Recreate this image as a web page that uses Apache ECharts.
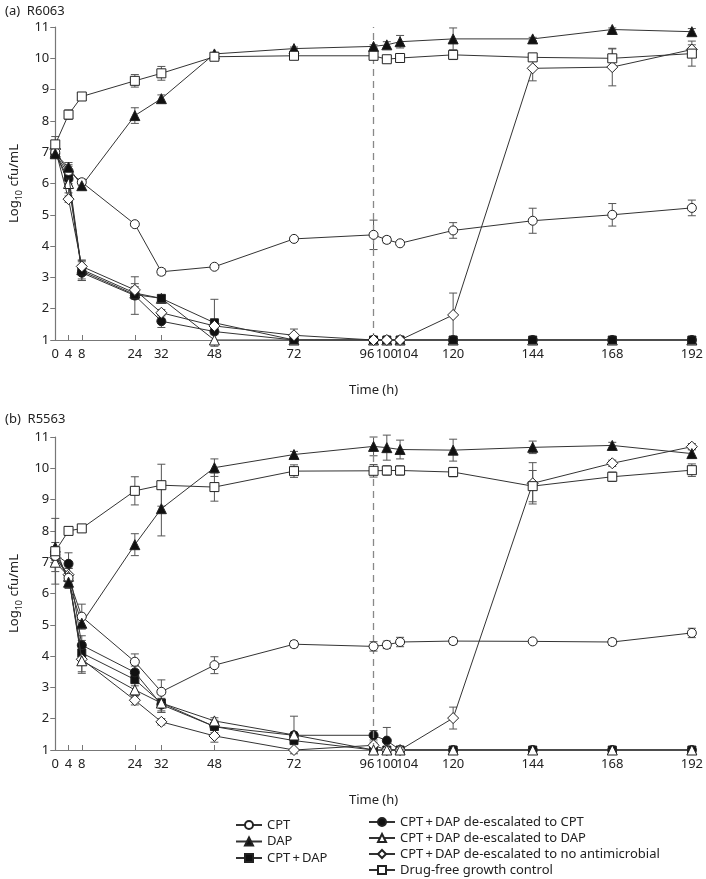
<!DOCTYPE html>
<html>
<head>
<meta charset="utf-8">
<script src="https://cdn.jsdelivr.net/npm/echarts@6/dist/echarts.min.js"></script>
<style>html,body{margin:0;padding:0;background:#fff}#c{width:706px;height:879px}</style>
</head>
<body>
<div id="c"></div>
<script>
// ---- Data ----
const times = [0, 4, 8, 24, 32, 48, 72, 96, 100, 104, 120, 144, 168, 192];
const xTickLabels = ['0','4','8','24','32','48','72','96','100','104','120','144','168','192'];
const yTicks = [1,2,3,4,5,6,7,8,9,10,11];

// Panel (a) R6063
const aCPT      = [7.0, 6.4, 6.04, 4.7, 3.18, 3.34, 4.23, 4.36, 4.2, 4.09, 4.5, 4.81, 5.0, 5.22];
const aCPTErr   = [0.1, 0.15, 0.1, 0.05, 0.1, 0.05, 0.05, 0.47, 0.1, 0.05, 0.25, 0.4, 0.36, 0.25];
const aDAP      = [6.95, 6.52, 5.93, 8.17, 8.71, 10.14, 10.31, 10.38, 10.43, 10.53, 10.62, 10.62, 10.92, 10.85];
const aDAPErr   = [0.1, 0.15, 0.1, 0.25, 0.12, 0.05, 0.05, 0.05, 0.1, 0.2, 0.35, 0.05, 0.05, 0.1];
const aCombo    = [6.95, 6.3, 3.2, 2.45, 2.33, 1.55, 1.0, 1.0, 1.0, 1.0, 1.0, 1.0, 1.0, 1.0];
const aComboErr = [0.1, 0.3, 0.3, 0.1, 0.08, 0.75, 0, 0, 0, 0, 0, 0, 0, 0];
const aDeCPT    = [6.95, 6.15, 3.15, 2.42, 1.6, 1.27, 1.0, 1.0, 1.0, 1.0, 1.0, 1.0, 1.0, 1.0];
const aDeCPTErr = [0.05, 0.2, 0.25, 0.6, 0.2, 0.1, 0, 0, 0, 0, 0, 0, 0, 0];
const aDeDAP    = [7.0, 6.0, 3.25, 2.5, 2.33, 1.0, 1.0, 1.0, 1.0, 1.0, 1.0, 1.0, 1.0, 1.0];
const aDeDAPErr = [0.1, 0.3, 0.3, 0.2, 0.1, 0, 0, 0, 0, 0, 0, 0, 0, 0];
const aDeNone   = [7.1, 5.5, 3.35, 2.6, 1.87, 1.45, 1.15, 1.0, 1.0, 1.0, 1.8, 9.68, 9.72, 10.28];
const aDeNoneErr= [0.1, 0.1, 0.2, 0.2, 0.1, 0.1, 0.2, 0, 0, 0, 0.7, 0.4, 0.6, 0.15];
const aCtrl     = [7.25, 8.2, 8.78, 9.28, 9.52, 10.05, 10.08, 10.08, 9.97, 10.01, 10.11, 10.03, 10.0, 10.15];
const aCtrlErr  = [0.25, 0.15, 0.1, 0.2, 0.22, 0.05, 0.05, 0.1, 0.05, 0.05, 0.15, 0.1, 0.3, 0.4];

// Panel (b) R5563
const bCPT      = [7.2, 6.5, 5.26, 3.82, 2.86, 3.71, 4.38, 4.31, 4.36, 4.45, 4.48, 4.47, 4.45, 4.74];
const bCPTErr   = [0.3, 0.3, 0.4, 0.25, 0.38, 0.27, 0.1, 0.15, 0.12, 0.15, 0.1, 0.05, 0.1, 0.15];
const bDAP      = [7.48, 6.36, 5.05, 7.56, 8.71, 10.02, 10.44, 10.7, 10.66, 10.6, 10.58, 10.67, 10.73, 10.47];
const bDAPErr   = [0.15, 0.2, 0.15, 0.35, 0.87, 0.28, 0.1, 0.3, 0.4, 0.3, 0.35, 0.2, 0.1, 0.15];
const bCombo    = [7.3, 6.5, 4.1, 3.25, 2.5, 1.75, 1.3, 1.0, 1.0, 1.0, 1.0, 1.0, 1.0, 1.0];
const bComboErr = [0.1, 0.3, 0.4, 0.2, 0.3, 0.2, 0.1, 0, 0, 0, 0, 0, 0, 0];
const bDeCPT    = [7.25, 6.95, 4.35, 3.48, 2.45, 1.75, 1.47, 1.47, 1.3, 1.0, 1.0, 1.0, 1.0, 1.0];
const bDeCPTErr = [0.2, 0.35, 0.3, 0.2, 0.2, 0.1, 0.1, 0.15, 0.42, 0, 0, 0, 0, 0];
const bDeDAP    = [7.0, 6.55, 3.85, 2.92, 2.5, 1.93, 1.48, 1.0, 1.0, 1.0, 1.0, 1.0, 1.0, 1.0];
const bDeDAPErr = [0.3, 0.3, 0.4, 0.2, 0.3, 0.1, 0.6, 0, 0, 0, 0, 0, 0, 0];
const bDeNone   = [7.15, 6.6, 3.9, 2.59, 1.9, 1.45, 1.0, 1.15, 1.0, 1.0, 2.02, 9.52, 10.16, 10.69];
const bDeNoneErr= [0.2, 0.3, 0.4, 0.15, 0.1, 0.2, 0, 0.1, 0, 0, 0.35, 0.66, 0.1, 0.1];
const bCtrl     = [7.35, 8.0, 8.08, 9.28, 9.46, 9.4, 9.91, 9.92, 9.93, 9.93, 9.88, 9.43, 9.73, 9.94];
const bCtrlErr  = [1.05, 0.05, 0.05, 0.45, 0.67, 0.45, 0.2, 0.2, 0.15, 0.15, 0.15, 0.5, 0.15, 0.2];

const NAMES = {
  CPT: 'CPT',
  DAP: 'DAP',
  combo: 'CPT\u2009+\u2009DAP',
  deCPT: 'CPT\u2009+\u2009DAP de-escalated to CPT',
  deDAP: 'CPT\u2009+\u2009DAP de-escalated to DAP',
  deNone: 'CPT\u2009+\u2009DAP de-escalated to no antimicrobial',
  ctrl: 'Drug-free growth control'
};
const STY = {
  CPT:   {symbol: 'circle',   size: 9,  fill: '#fff'},
  DAP:   {symbol: 'triangle', size: 10, fill: '#111'},
  combo: {symbol: 'rect',     size: 8,  fill: '#111'},
  deCPT: {symbol: 'circle',   size: 9,  fill: '#111'},
  deDAP: {symbol: 'triangle', size: 10, fill: '#fff'},
  deNone:{symbol: 'diamond',  size: 11, fill: '#fff'},
  ctrl:  {symbol: 'rect',     size: 9,  fill: '#fff'}
};

const FONT = 'Noto Sans';
const series = [];
function addPanel(idx, sets, zmap) {
  Object.keys(sets).forEach(k => {
    const [vals, errs] = sets[k];
    const st = STY[k];
    const z = zmap[k] || 3;
    series.push({
      type: 'custom', xAxisIndex: idx, yAxisIndex: idx, z: 1, silent: true,
      data: times.map((t, i) => [t, vals[i], errs[i]]),
      renderItem: function (params, api) {
        const x = api.value(0), y = api.value(1), e = api.value(2);
        if (!e) return null;
        const p1 = api.coord([x, y + e]);
        const p2 = api.coord([x, y - e]);
        const w = 4;
        const s = {stroke: '#555', lineWidth: 1};
        return {type: 'group', children: [
          {type: 'line', shape: {x1: p1[0], y1: p1[1], x2: p2[0], y2: p2[1]}, style: s},
          {type: 'line', shape: {x1: p1[0]-w, y1: p1[1], x2: p1[0]+w, y2: p1[1]}, style: s},
          {type: 'line', shape: {x1: p2[0]-w, y1: p2[1], x2: p2[0]+w, y2: p2[1]}, style: s}
        ]};
      }
    });
    const s = {
      name: NAMES[k], type: 'line', xAxisIndex: idx, yAxisIndex: idx, z: z,
      data: times.map((t, i) => [t, vals[i]]),
      symbol: st.symbol, symbolSize: st.size, showSymbol: true,
      lineStyle: {color: '#333', width: 1},
      itemStyle: {color: st.fill, borderColor: '#222', borderWidth: 1},
      emphasis: {disabled: true}, animation: false
    };
    if (k === 'ctrl') {
      s.markLine = {
        silent: true, symbol: 'none', label: {show: false},
        lineStyle: {type: [7, 5], color: '#888', width: 1.3},
        data: [{xAxis: 96}]
      };
    }
    series.push(s);
  });
}

addPanel(0, {
  deCPT: [aDeCPT, aDeCPTErr], deDAP: [aDeDAP, aDeDAPErr], combo: [aCombo, aComboErr],
  deNone: [aDeNone, aDeNoneErr], CPT: [aCPT, aCPTErr], DAP: [aDAP, aDAPErr], ctrl: [aCtrl, aCtrlErr]
}, {deCPT: 2, deDAP: 3, combo: 4, deNone: 5, CPT: 6, DAP: 6, ctrl: 6});
addPanel(1, {
  combo: [bCombo, bComboErr], deCPT: [bDeCPT, bDeCPTErr], deNone: [bDeNone, bDeNoneErr],
  deDAP: [bDeDAP, bDeDAPErr], CPT: [bCPT, bCPTErr], DAP: [bDAP, bDAPErr], ctrl: [bCtrl, bCtrlErr]
}, {combo: 2, deCPT: 3, deNone: 4, deDAP: 5, CPT: 6, DAP: 6, ctrl: 6});

function xAxis(idx) {
  return {
    type: 'value', gridIndex: idx, min: 0, max: 192,
    name: 'Time (h)', nameLocation: 'middle', nameGap: 44,
    nameTextStyle: {fontFamily: FONT, fontSize: 13, color: '#222'},
    axisLine: {lineStyle: {color: '#777', width: 1.2}},
    axisTick: {inside: true, length: 5, customValues: times, lineStyle: {color: '#777'}},
    axisLabel: {customValues: times, fontFamily: FONT, fontSize: 13, color: '#222', margin: 8,
      hideOverlap: false,
      formatter: v => {
        const t = xTickLabels[times.indexOf(v)] || '';
        if (v === 96) return '{l|' + t + '}';
        if (v === 104) return '{r|' + t + '}';
        return t;
      },
      rich: {
        l: {fontFamily: FONT, fontSize: 13, color: '#222', padding: [0, 13, 0, 0]},
        r: {fontFamily: FONT, fontSize: 13, color: '#222', padding: [0, 0, 0, 14]}
      }
    },
    splitLine: {show: false}
  };
}
function yAxis(idx) {
  return {
    type: 'value', gridIndex: idx, min: 1, max: 11, interval: 1,
    name: '{a|Log}{s|10}{a| cfu/mL}', nameLocation: 'middle', nameGap: 26, nameRotate: 90,
    nameTextStyle: {rich: {
      a: {fontFamily: FONT, fontSize: 13, color: '#222', lineHeight: 18, verticalAlign: 'middle'},
      s: {fontFamily: FONT, fontSize: 9, color: '#222', lineHeight: 18, verticalAlign: 'bottom', padding: [6, 0, 0, 0]}
    }},
    axisLine: {show: true, lineStyle: {color: '#777', width: 1.2}},
    axisTick: {show: true, length: 5, lineStyle: {color: '#777'}},
    axisLabel: {fontFamily: FONT, fontSize: 13, color: '#222', margin: 6,
      formatter: v => yTicks.indexOf(v) >= 0 ? String(v) : ''},
    splitLine: {show: false}
  };
}

// one legend component per row, so rows sit exactly where the reference puts them
const legendRows = [
  [NAMES.CPT, 235, 825], [NAMES.DAP, 235, 841.5], [NAMES.combo, 235, 858],
  [NAMES.deCPT, 368, 822], [NAMES.deDAP, 368, 838], [NAMES.deNone, 368, 854], [NAMES.ctrl, 368, 870]
];
const legends = legendRows.map(([n, l, cy]) => ({
  data: [n], left: l, top: cy - 7, orient: 'vertical', padding: 0,
  itemWidth: 26, itemHeight: 10, itemGap: 0, selectedMode: false,
  textStyle: {fontFamily: FONT, fontSize: 13, color: '#222', lineHeight: 14}
}));

const chart = echarts.init(document.getElementById('c'), null, {renderer: 'canvas'});
chart.setOption({
  animation: false,
  backgroundColor: '#fff',
  title: [
    {text: '(a)  R6063', left: 0, top: 0, textStyle: {fontFamily: FONT, fontSize: 13, fontWeight: 'normal', color: '#222'}},
    {text: '(b)  R5563', left: 0, top: 408, textStyle: {fontFamily: FONT, fontSize: 13, fontWeight: 'normal', color: '#222'}}
  ],
  grid: [
    {left: 39, right: 14, top: 27, height: 313},
    {left: 39, right: 14, top: 437, height: 313}
  ],
  xAxis: [xAxis(0), xAxis(1)],
  yAxis: [yAxis(0), yAxis(1)],
  legend: legends,
  series: series
});
</script>
</body>
</html>
